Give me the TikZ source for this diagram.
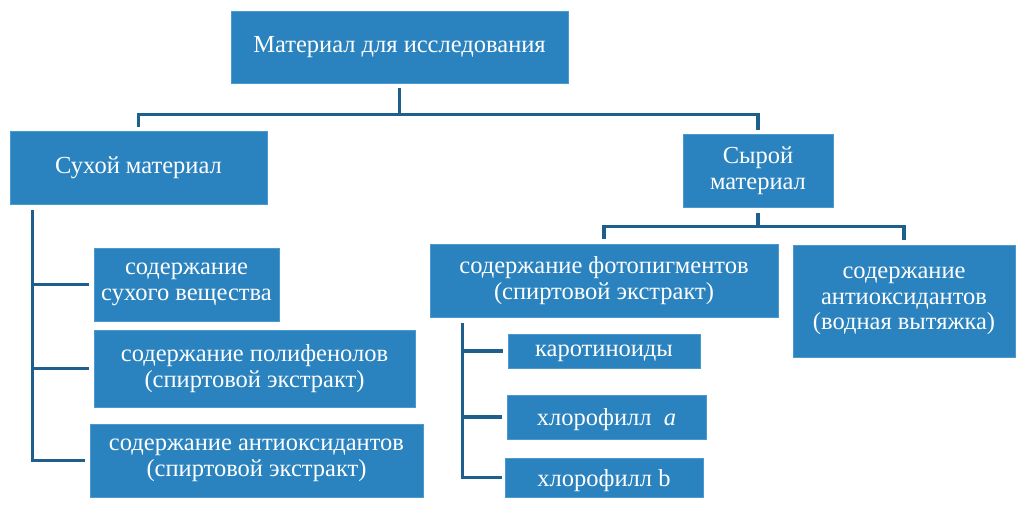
\documentclass[tikz,border=0pt]{standalone}
\usepackage{fontspec}
\setmainfont{Liberation Serif}
\definecolor{boxblue}{HTML}{2A83BF}
\definecolor{boxedge}{HTML}{4A9AD0}
\definecolor{linkblue}{HTML}{1F5F8E}
\tikzset{
  bx/.style={rectangle, fill=boxblue, draw=boxedge, line width=0.8pt, text=white,
    align=center, inner sep=0pt, font=\fontsize{24.5}{25.5}\selectfont},
  lowline/.style={text depth=0pt},
  conn/.style={draw=linkblue, line width=3.2pt}
}
\begin{document}
\begin{tikzpicture}[x=1pt,y=-1pt]
\useasboundingbox (0,0) rectangle (1025,509);
\fill[white] (0,0) rectangle (1025,509);
\node[bx, minimum width=337pt, minimum height=72pt] (top) at (399.5,47) {Материал для исследования};
\node[bx, minimum width=257pt, minimum height=73pt] (dry) at (138.5,167.5) {Сухой материал};
\node[bx, minimum width=150pt, minimum height=73pt] (raw) at (758,170.5) {Сырой\\материал};
\node[bx, minimum width=185pt, minimum height=73pt] (dry1) at (186.5,284.5) {содержание\\сухого вещества};
\node[bx, minimum width=321pt, minimum height=77pt] (dry2) at (254.5,368.5) {содержание полифенолов\\(спиртовой экстракт)};
\node[bx, minimum width=333pt, minimum height=73pt] (dry3) at (256.5,460.5) {содержание антиоксидантов\\(спиртовой экстракт)};
\node[bx, minimum width=348pt, minimum height=73pt] (photo) at (604,280.5) {содержание фотопигментов\\(спиртовой экстракт)};
\node[bx, minimum width=222pt, minimum height=112pt] (water) at (904,301) {содержание\\антиоксидантов\\(водная вытяжка)};
\node[bx, lowline, minimum width=192pt, minimum height=34pt] (car) at (604,351) {каротиноиды};
\node[bx, lowline, minimum width=199pt, minimum height=44pt] (chla) at (606.5,417) {хлорофилл\ \ \textit{a}};
\node[bx, lowline, minimum width=198pt, minimum height=39pt] (chlb) at (604,477.5) {хлорофилл b};

% top level
\draw[conn] ([yshift=-5pt]top.south) -- ++(0,26) coordinate (tj) -| ([yshift=4pt]dry.north);
\draw[conn] (tj) -| ([yshift=4pt]raw.north);
% raw level
\draw[conn] ([yshift=-6pt]raw.south) -- ++(0,13) coordinate (rj) -| ([yshift=5pt]photo.north);
\draw[conn] (rj) -| ([yshift=5pt]water.north);
% dry tree
\coordinate (dv) at ([xshift=23pt,yshift=-6pt]dry.south west);
\draw[conn] (dv) |- ([xshift=-5pt]dry3.west);
\draw[conn] (dv |- dry1.west) -- ([xshift=-5pt]dry1.west);
\draw[conn] (dv |- dry2.west) -- ([xshift=-5pt]dry2.west);
% photo tree
\coordinate (pv) at ([xshift=33pt,yshift=-6pt]photo.south west);
\draw[conn] (pv) |- ([xshift=-3pt]chlb.west);
\draw[conn] (pv |- car.west) -- ([xshift=-5pt]car.west);
\draw[conn] (pv |- chla.west) -- ([xshift=-5pt]chla.west);
\end{tikzpicture}
\end{document}
